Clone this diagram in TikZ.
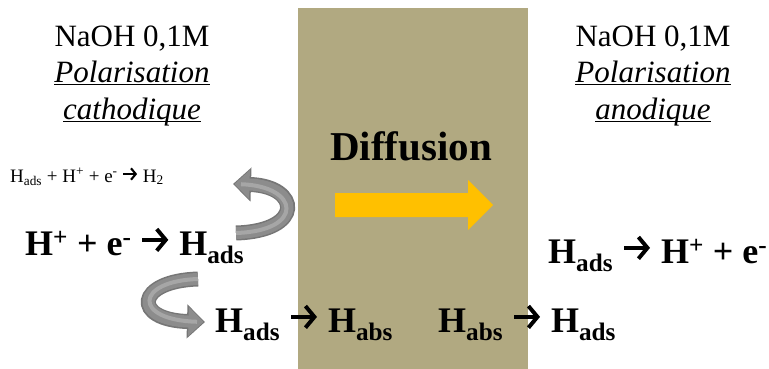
\documentclass[tikz,border=0pt]{standalone}
\usepackage{fontspec}
\setmainfont{Liberation Serif}
\usetikzlibrary{positioning, arrows.meta}
\definecolor{mTan}{HTML}{B1A981}
\definecolor{mGold}{HTML}{FFC000}
\definecolor{mEdge}{HTML}{767676}
\definecolor{mArrow}{HTML}{8C8C8C}
\definecolor{mStripe}{HTML}{A6A6A6}

% bold reaction arrow inside the equations
\newcommand{\fleche}{\tikz[baseline=-0.42em]\draw[line width=0.11em,
  -{Straight Barb[length=0.25em,width=0.6em]}] (0,0) -- (0.72em,0);}

\begin{document}
\begin{tikzpicture}[
  x=1pt, y=-1pt,
  every node/.style={inner sep=0pt},
  cond/.style={anchor=base, font=\fontsize{31}{37}\selectfont},
  pol/.style={cond, font=\fontsize{31}{37}\selectfont\itshape},
  eqn/.style={anchor=base west, font=\fontsize{36}{42}\selectfont\bfseries},
  curveedge/.style={line width=15pt, mEdge,
               -{Triangle[length=18pt,width=33pt]}},
  curvebody/.style={line width=12pt, mArrow, shorten >=1.5pt,
               -{Triangle[length=15pt,width=28pt]}},
  stripe/.style={line width=4pt, mStripe, shorten >=8pt},
]
  \useasboundingbox (0,0) rectangle (769,369);

  % Membrane
  \fill[mTan] (298,8) rectangle (528,369);
  \node[anchor=base, font=\fontsize{41}{48}\selectfont\bfseries] (diff)
    at (411,160) {Diffusion};
  \fill[mGold] (335,193) -- (468,193) -- (468,180) -- (493,205)
    -- (468,230) -- (468,217) -- (335,217) -- cycle;

  % Entry side
  \node[cond] (naohL) at (132,47) {NaOH 0,1M};
  \node[pol] (polL) at (132,83) {\underline{\smash{Polarisation}}};
  \node[pol] (cathL) at (132,120) {\underline{\smash{cathodique}}};

  \node[anchor=base west, font=\fontsize{19}{22}\selectfont] (recomb)
    at (10,182) {H\textsubscript{ads} + H\textsuperscript{+} + e\textsuperscript{-} \fleche{} H\textsubscript{2}};
  \node[eqn] (reduc) at (25,255)
    {H\textsuperscript{+} + e\textsuperscript{-} \fleche{} H\textsubscript{ads}};
  \node[eqn] (absL) at (215,332) {H\textsubscript{ads} \fleche{} H\textsubscript{abs}};

  % Exit side
  \node[cond] (naohR) at (653,47) {NaOH 0,1M};
  \node[pol] (polR) at (653,83) {\underline{\smash{Polarisation}}};
  \node[pol] (anoR) at (653,120) {\underline{\smash{anodique}}};

  \node[eqn] (absR) at (438,332) {H\textsubscript{abs} \fleche{} H\textsubscript{ads}};
  \node[eqn] (oxid) at (548,263)
    {H\textsubscript{ads} \fleche{} H\textsuperscript{+} + e\textsuperscript{-}};

  % Curved arrows
  \coordinate (upTail) at (236,233);
  \coordinate (upHead) at (233,184);
  \coordinate (loTail) at (198,279);
  \coordinate (loHead) at (205,322);
  \foreach \layer in {curveedge, curvebody, stripe}{
    \draw[\layer] (upTail) .. controls (305,231) and (300,186) .. (upHead);
    \draw[\layer] (loTail) .. controls (135,281) and (132,320) .. (loHead);
  }
\end{tikzpicture}
\end{document}
